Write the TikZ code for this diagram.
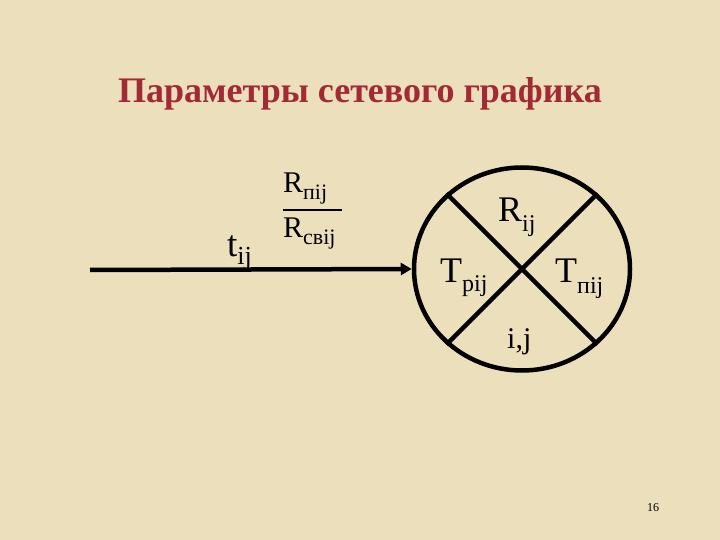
\documentclass[tikz,border=0pt]{standalone}
\usepackage{fontspec}
\setmainfont{Liberation Serif}
\usetikzlibrary{shapes.geometric,arrows.meta}
\definecolor{parch}{RGB}{236,223,187}
\definecolor{titlered}{RGB}{162,42,52}
\newcommand{\fs}[1]{\fontsize{#1}{#1}\selectfont}
\newcommand{\lowsub}[3]{\raisebox{-#2pt}{\fs{#1}#3}}
\tikzset{
  lbl/.style={anchor=base west, inner sep=0pt, text=black},
  thick line/.style={line width=4.5pt, draw=black},
}
\begin{document}
\begin{tikzpicture}[x=1pt,y=-1pt]
\fill[parch] (0,0) rectangle (720,540);
\useasboundingbox (0,0) rectangle (720,540);
% title
\node[anchor=base, inner sep=0pt, text=titlered] (title) at (360,103) {\fs{36}\bfseries Параметры сетевого графика};
% event circle
\node[ellipse, draw=black, line width=4.5pt, inner sep=0pt, minimum width=216pt, minimum height=203pt] (ev) at (522,269) {};
\draw[thick line] (ev.135) -- (ev.-45);
\draw[thick line] (ev.45) -- (ev.-135);
% arrow
\coordinate (start) at (90,270);
\draw[thick line, -{Triangle[length=11pt,width=12pt]}] (start) -- (ev.west);
% labels
\node[lbl] (tij) at (227,256) {\fs{37}t\lowsub{26}{8}{ij}};
\node[lbl] (rpij) at (283,193) {\fs{30}R\lowsub{22}{7}{пij}};
\node[lbl] (rsvij) at (283,237) {\fs{30}R\lowsub{22}{7}{свij}};
\coordinate (barl) at (283,210);
\coordinate (barr) at (342,210);
\draw[line width=1.6pt] (barl) -- (barr);
\node[lbl] (rij) at (498,222) {\fs{36}R\lowsub{24}{10}{ij}};
\node[lbl] (tpij) at (440,282) {\fs{36}T\lowsub{24}{9}{pij}};
\node[lbl] (tnij) at (555,282) {\fs{36}T\lowsub{24}{11}{пij}};
\node[lbl] (ij) at (507,348) {\fs{30}i,j};
\node[lbl] (page) at (647,511) {\fs{12}16};
\end{tikzpicture}
\end{document}
